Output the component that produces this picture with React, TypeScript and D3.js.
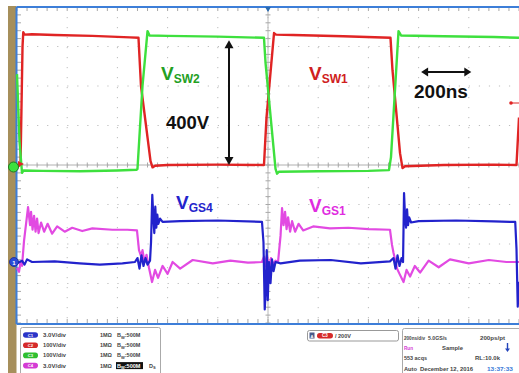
import React from 'react';
import * as d3 from 'd3';

// ---------- data (time in ns, 200 ns/div) ----------
const TIME_RANGE: [number, number] = [0, 2000];
const TIME_GRID = [0, 200, 400, 600, 800, 1000, 1200, 1400, 1600, 1800, 2000];
const VOLT_GRID = [-400, -300, -200, -100, 0, 100, 200, 300, 400];

// VSW1 (ch2, red, 100V/div)
const vsw1: [number, number][] = [
  [0, 0], [8, -2], [14, 0], [22, 300], [25, 336], [30, 330], [60, 331], [150, 329], [300, 327], [450, 323],
  [484, 322], [494, 200], [532, 10], [540, -6], [550, -2], [600, 0], [800, 1], [984, 0], [994, 120],
  [1024, 334], [1032, 330], [1100, 329], [1300, 326], [1488, 322], [1496, 240], [1526, 30], [1536, -8],
  [1546, -3], [1700, 0], [1900, 1], [1990, 0], [2000, 120],
];
// VSW2 (ch3, green, 100V/div)
const vsw2: [number, number][] = [
  [0, 230], [10, 60], [20, -20], [26, -14], [100, -15], [250, -16], [400, -14], [476, -12], [480, -10],
  [500, 200], [520, 339], [528, 328], [600, 327], [800, 325], [984, 322], [990, 260], [1030, -10],
  [1036, -22], [1044, -17], [1200, -16], [1400, -15], [1482, -13], [1490, 20], [1520, 339], [1530, 328],
  [1700, 326], [1900, 324], [2000, 322],
];
// VGS4 (ch1, blue, 3V/div)
const vgs4: [number, number][] = [
  [0, -0.1], [10, 0], [20, 0.1], [30, -0.2], [40, 0.2], [60, 0], [150, 0.05], [250, -0.1], [330, -0.2],
  [420, -0.1], [470, 0], [480, 0.3], [488, -0.5], [496, 0.5], [504, -0.3], [512, 0.3], [520, -0.2],
  [530, 0.1], [534, 1.5], [539, 5.1], [543, 3.5], [547, 2.2], [551, 4.2], [555, 2.6], [559, 3.6],
  [563, 2.9], [570, 3.3], [580, 3.05], [650, 3.1], [800, 3.15], [976, 3.05], [982, 1.5], [987, -3.6],
  [991, -2.1], [995, 0.9], [999, -2.9], [1004, 0], [1010, -1.6], [1016, 0.2], [1022, -0.7], [1030, 0],
  [1050, -0.1], [1127, 0.1], [1250, 0.15], [1370, -0.1], [1486, 0.05], [1500, 0.3], [1508, -0.5],
  [1516, 0.5], [1524, -0.3], [1532, 0.3], [1538, 0], [1542, 5.24], [1546, 3.4], [1550, 2.6], [1554, 4.0],
  [1558, 2.8], [1562, 3.4], [1570, 3.0], [1600, 3.1], [1750, 3.15], [1900, 3.08], [1985, 3.04],
  [1990, 1.0], [1995, -3.4], [2000, -1.5],
];
// VGS1 (ch4, magenta, 3V/div)
const vgs1: [number, number][] = [
  [0, -0.45], [8, -0.75], [14, 0], [20, -0.3], [28, 1.6], [44, 4.17], [52, 2.8], [56, 3.8], [62, 2.45],
  [68, 3.5], [74, 2.3], [80, 3.3], [86, 2.2], [96, 3.0], [108, 2.3], [122, 2.9], [140, 2.15], [160, 2.7],
  [190, 2.3], [220, 2.6], [260, 2.35], [300, 2.55], [380, 2.45], [440, 2.45], [478, 2.4], [486, 0.9],
  [494, 0.45], [500, 0.9], [508, 0], [516, 0.55], [526, -0.45], [538, -1.52], [550, -0.6], [562, -1.2],
  [580, -0.3], [600, -0.9], [620, 0], [650, -0.5], [700, 0.15], [780, -0.1], [850, 0.1], [920, -0.05],
  [976, 0], [984, 0.4], [990, -0.3], [996, 0.5], [1004, -0.5], [1012, 0.3], [1020, -0.2], [1030, 0.1],
  [1040, 0], [1050, 2.0], [1056, 4.1], [1062, 2.8], [1068, 3.8], [1074, 2.5], [1080, 3.4], [1088, 2.3],
  [1096, 3.1], [1108, 2.3], [1122, 2.9], [1140, 2.4], [1180, 2.7], [1247, 2.55], [1320, 2.6], [1400, 2.5],
  [1486, 2.45], [1494, 1.3], [1500, 0.7], [1506, 0.2], [1514, -0.5], [1524, -0.9], [1540, -1.52],
  [1552, -0.6], [1566, -1.1], [1585, -0.3], [1606, -0.8], [1640, 0.1], [1680, -0.4], [1725, 0.2],
  [1800, -0.1], [1880, 0.15], [1950, 0], [2000, 0],
];

const channelRows = [
  { name: 'C1', color: '#2b34c8', scale: '3.0V/div' },
  { name: 'C2', color: '#d52a2a', scale: '100V/div' },
  { name: 'C3', color: '#2fbf2f', scale: '100V/div' },
  { name: 'C4', color: '#d43bd4', scale: '3.0V/div' },
];

const statusTexts = [
  { t: '200ns/div', x: 404, w: 21, row: 0, c: '#444' },
  { t: '5.0GS/s', x: 428, w: 19, row: 0, c: '#444' },
  { t: '200ps/pt', x: 480, w: 25, row: 0, c: '#444' },
  { t: 'Run', x: 404, w: 9, row: 1, c: '#d43bd4' },
  { t: 'Sample', x: 442, w: 21, row: 1, c: '#444' },
  { t: '553 acqs', x: 404, w: 23, row: 2, c: '#444' },
  { t: 'RL:10.0k', x: 475, w: 25, row: 2, c: '#444' },
  { t: 'Auto', x: 404, w: 13, row: 3, c: '#444' },
  { t: 'December 12, 2016', x: 420, w: 53, row: 3, c: '#444' },
  { t: '13:37:33', x: 487, w: 26, row: 3, c: '#3a7ad8' },
];

const FONT = 'Liberation Sans, Arial, sans-serif';
const W = 519;
const H = 373;

export default function App() {
  const L = 17, R = 519, T = 7, B = 323;
  const x = d3.scaleLinear().domain(TIME_RANGE).range([L, R]);
  const ySW = d3.scaleLinear().domain([-400, 400]).range([B, T]);
  const yGS = d3.scaleLinear().domain([0, 3]).range([262, 222.5]);
  const lineSW = d3.line<[number, number]>().x(d => x(d[0])).y(d => ySW(d[1]));
  const lineGS = d3.line<[number, number]>().x(d => x(d[0])).y(d => yGS(d[1]));

  const minorX = d3.range(TIME_RANGE[0], TIME_RANGE[1] + 1, 40);
  const minorY = d3.range(-400, 401, 20);
  const cx = x(1000), cy = ySW(0);

  return (
    <svg width={W} height={H} style={{ position: 'absolute', left: 0, top: 0, background: '#fff' }}
      fontFamily={FONT}>
      <rect x={0} y={0} width={W} height={H} fill="#fff" />
      {/* tan strip */}
      <rect x={8} y={6} width={8.5} height={H - 6} fill="#a68f5b" />
      {/* grid */}
      {TIME_GRID.slice(1, -1).map(t => (
        <line key={'gx' + t} x1={x(t)} x2={x(t)} y1={T} y2={B} stroke="#bdbdbd" strokeWidth={1}
          strokeDasharray="1.2 8.8" />
      ))}
      {VOLT_GRID.slice(1, -1).map(v => (
        <line key={'gy' + v} x1={L} x2={R} y1={ySW(v)} y2={ySW(v)} stroke="#bdbdbd" strokeWidth={1}
          strokeDasharray="1.2 8.84" />
      ))}
      <line x1={L} x2={R} y1={cy} y2={cy} stroke="#b0b0b0" strokeWidth={1} />
      <line x1={cx} x2={cx} y1={T} y2={B} stroke="#b8b8b8" strokeWidth={1} />
      {minorX.map(t => (
        <g key={'mx' + t}>
          <line x1={x(t)} x2={x(t)} y1={cy - 2.5} y2={cy + 2.5} stroke="#a8a8a8" />
          <line x1={x(t)} x2={x(t)} y1={T} y2={T + 4} stroke="#a8a8a8" />
          <line x1={x(t)} x2={x(t)} y1={B - 4} y2={B} stroke="#a8a8a8" />
        </g>
      ))}
      {minorY.map(v => (
        <g key={'my' + v}>
          <line x1={cx - 2.5} x2={cx + 2.5} y1={ySW(v)} y2={ySW(v)} stroke="#a8a8a8" />
          <line x1={L} x2={L + 4} y1={ySW(v)} y2={ySW(v)} stroke="#a8a8a8" />
        </g>
      ))}
      {/* border */}
      <line x1={L - 0.5} x2={R} y1={T} y2={T} stroke="#3d7ed8" strokeWidth={2} />
      <line x1={L - 0.5} x2={L - 0.5} y1={T} y2={B + 1} stroke="#3d7ed8" strokeWidth={2} />
      <line x1={L - 0.5} x2={R} y1={B + 1} y2={B + 1} stroke="#3d7ed8" strokeWidth={2} />

      {/* traces */}
      <path d={lineSW(vsw1) || ''} fill="none" stroke="#e02424" strokeWidth={2.4} strokeLinejoin="round" />
      <path d={lineSW(vsw2) || ''} fill="none" stroke="#3ee03e" strokeWidth={2.4} strokeLinejoin="round" />
      <path d={lineGS(vgs1) || ''} fill="none" stroke="#e24ae2" strokeWidth={2.2} strokeLinejoin="round" />
      <path d={lineGS(vgs4) || ''} fill="none" stroke="#2222cc" strokeWidth={2.2} strokeLinejoin="round" />

      {/* markers */}
      <path d={`M${cx - 3},${T} L${cx + 3},${T} L${cx},${T + 5} Z`} fill="#2a6ab0" />
      <circle cx={511} cy={103} r={1.8} fill="#e02424" />
      <line x1={511} x2={519} y1={103} y2={103} stroke="#e02424" strokeWidth={1} />
      <path d="M18,161 L24,164 L18,167 Z" fill="#e02424" />
      <circle cx={13.5} cy={167} r={5} fill="#3ee03e" stroke="#1f7a1f" strokeWidth={1} />
      <circle cx={14} cy={262} r={4.5} fill="#2a4ad8" stroke="#1a2a90" strokeWidth={0.8} />
      <text x={14} y={264.5} fontSize={6} fill="#fff" textAnchor="middle" fontWeight="bold">1</text>

      {/* annotations */}
      <text x={161} y={80} fill="#23a023" fontWeight="bold" fontSize={19}>V<tspan fontSize={12} dy={3}>SW2</tspan></text>
      <text x={309} y={80} fill="#cf2020" fontWeight="bold" fontSize={19}>V<tspan fontSize={12} dy={3}>SW1</tspan></text>
      <text x={176} y={209} fill="#2424cc" fontWeight="bold" fontSize={19}>V<tspan fontSize={12} dy={3}>GS4</tspan></text>
      <text x={309} y={212} fill="#e02ce0" fontWeight="bold" fontSize={19}>V<tspan fontSize={12} dy={3}>GS1</tspan></text>
      <text x={166} y={129} fill="#111" fontWeight="bold" fontSize={18.5}>400V</text>
      <text x={414} y={98} fill="#111" fontWeight="bold" fontSize={19}>200ns</text>
      {/* vertical arrow 400V */}
      <line x1={229} x2={229} y1={ySW(0) - 7} y2={ySW(316) + 7} stroke="#111" strokeWidth={2} />
      <path d={`M224.5,${ySW(316) + 8} L229,${ySW(316)} L233.5,${ySW(316) + 8} Z`} fill="#111" />
      <path d={`M224.5,${ySW(0) - 8} L229,${ySW(0)} L233.5,${ySW(0) - 8} Z`} fill="#111" />
      {/* horizontal arrow 200ns */}
      <line x1={x(1610) + 6} x2={x(1810) - 6} y1={72} y2={72} stroke="#111" strokeWidth={2} />
      <path d={`M${x(1610) + 7},67.5 L${x(1610)},72 L${x(1610) + 7},76.5 Z`} fill="#111" />
      <path d={`M${x(1810) - 7},67.5 L${x(1810)},72 L${x(1810) - 7},76.5 Z`} fill="#111" />

      {/* bottom info panels */}
      <rect x={20.5} y={327.5} width={140} height={50} rx={2} fill="#fff" stroke="#aaa" strokeWidth={1} />
      {channelRows.map((c, i) => {
        const yy = 335 + i * 10.2;
        return (
          <g key={c.name} fontSize={5.5} fontWeight="bold" fill="#444">
            <rect x={23} y={yy - 2.8} width={15} height={5.6} rx={2.8} fill={c.color} />
            <text x={30.5} y={yy + 1.6} fontSize={4.2} fill="#fff" textAnchor="middle">{c.name}</text>
            <text x={43} y={yy + 2} textLength={23} lengthAdjust="spacingAndGlyphs">{c.scale}</text>
            <text x={100} y={yy + 2} textLength={12} lengthAdjust="spacingAndGlyphs">1MΩ</text>
            {i === 3 && <rect x={116} y={yy - 3.5} width={27} height={7} fill="#111" />}
            <text x={117} y={yy + 2} fill={i === 3 ? '#fff' : '#444'}>B<tspan fontSize={4} dy={1.5}>W</tspan><tspan dy={-1.5}>:500M</tspan></text>
            {i === 3 && <text x={149} y={yy + 2}>D<tspan fontSize={4} dy={1.5}>S</tspan></text>}
          </g>
        );
      })}
      <rect x={307.5} y={330.5} width={91} height={10.5} rx={2} fill="#fff" stroke="#999" strokeWidth={1} />
      <rect x={309.5} y={332.5} width={5} height={6} fill="#4a5a8a" />
      <text x={312} y={337.5} fontSize={4} fill="#fff" textAnchor="middle" fontWeight="bold">A</text>
      <rect x={317} y={333} width={16} height={5.5} rx={2.7} fill="#d52a2a" />
      <text x={325} y={337.3} fontSize={4.5} fill="#fff" textAnchor="middle" fontWeight="bold">C3</text>
      <text x={335} y={338} fontSize={5.5} fontWeight="bold" fill="#444">/ 200V</text>

      <rect x={402.5} y={328.5} width={120} height={50} rx={2} fill="#fff" stroke="#aaa" strokeWidth={1} />
      <g fontSize={5.5} fontWeight="bold">
        {statusTexts.map(s => (
          <text key={s.t} x={s.x} y={340 + s.row * 10.2} fill={s.c} textLength={s.w}
            lengthAdjust="spacingAndGlyphs">{s.t}</text>
        ))}
      </g>
      <line x1={507.5} x2={507.5} y1={343} y2={350} stroke="#2244bb" strokeWidth={1.4} />
      <path d="M505,348.5 L507.5,352 L510,348.5 Z" fill="#2244bb" />
    </svg>
  );
}
